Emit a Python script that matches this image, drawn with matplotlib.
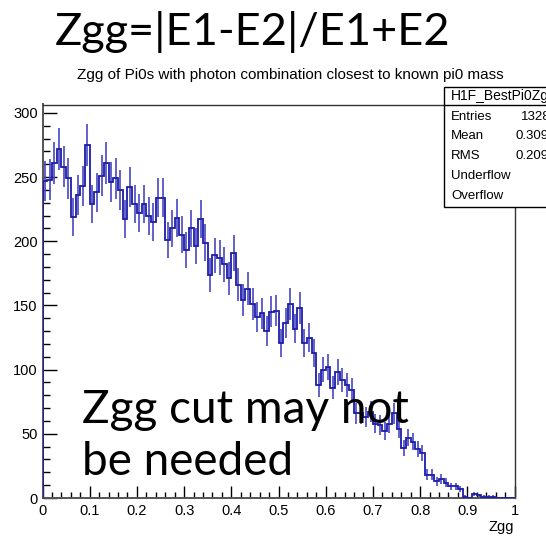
import numpy as np
import matplotlib
matplotlib.use("Agg")
import matplotlib.pyplot as plt
from matplotlib.patches import Rectangle
from matplotlib.lines import Line2D

# Zgg histogram, 100 bins on [0, 1]
bin_edges = np.linspace(0.0, 1.0, 101)
counts = [247, 248, 261, 272, 258, 249, 219, 236, 243, 275,
          229, 238, 251, 261, 246, 249, 240, 217, 242, 229,
          222, 229, 220, 215, 234, 234, 201, 210, 218, 205,
          193, 210, 196, 217, 199, 174, 189, 187, 182, 171,
          191, 166, 154, 163, 151, 141, 144, 130, 145, 146,
          121, 136, 151, 132, 148, 121, 125, 113, 88, 100,
          102, 86, 98, 92, 88, 84, 66, 66, 63, 67,
          58, 57, 52, 58, 66, 54, 39, 47, 44, 38,
          35, 18, 18, 13, 15, 12, 9, 9, 7, 1,
          0, 3, 2, 1, 1, 1, 0, 0, 0, 0]

stat_labels = ["Entries", "Mean", "RMS", "Underflow", "Overflow"]
stat_values = ["13283", "0.3093", "0.2093", "0", "0"]

xticks = [0, 0.1, 0.2, 0.3, 0.4, 0.5, 0.6, 0.7, 0.8, 0.9, 1]
xtick_labels = ["0", "0.1", "0.2", "0.3", "0.4", "0.5", "0.6", "0.7", "0.8", "0.9", "1"]
yticks = [0, 50, 100, 150, 200, 250, 300]

counts = np.array(counts, dtype=float)
centers = 0.5 * (bin_edges[:-1] + bin_edges[1:])

plt.rcParams['font.family'] = ['Liberation Sans', 'DejaVu Sans']

W, H = 546, 539
fig = plt.figure(figsize=(W / 100, H / 100), dpi=100)

def fx(px):
    return px / W

def fy(py):
    return 1 - py / H

left, right, top, bottom = 42.5, 514.5, 104.5, 498
ax = fig.add_axes([fx(left), fy(bottom), fx(right) - fx(left), fy(top) - fy(bottom)])

ax.stairs(counts, bin_edges, color='#1c1ca8', linewidth=1.3, zorder=3)
nz = counts > 0
ax.errorbar(centers[nz], counts[nz], yerr=np.sqrt(counts[nz]), fmt='none',
            ecolor='#4646c2', elinewidth=1.4, alpha=0.85, capsize=0, zorder=2)

ax.set_xlim(0, 1)
ax.set_ylim(0, 306.5)
ax.set_xticks(xticks)
ax.set_xticklabels(xtick_labels)
ax.set_xticks(np.arange(0, 1.001, 0.02), minor=True)
ax.set_yticks(yticks)
ax.set_yticks(np.arange(0, 306, 10), minor=True)

ax.tick_params(axis='both', which='both', direction='in', colors='black',
               labelsize=10.5, width=1.0)
ax.tick_params(axis='y', which='major', length=10, pad=3.5)
ax.tick_params(axis='y', which='minor', length=5)
ax.tick_params(axis='x', which='major', length=8.5, pad=4)
ax.tick_params(axis='x', which='minor', length=4.3)
ax.tick_params(top=False, right=False, which='both')

for side in ['left', 'bottom']:
    ax.spines[side].set_color('#555555')
    ax.spines[side].set_linewidth(1.4)
for side in ['top', 'right']:
    ax.spines[side].set_color('#333333')
    ax.spines[side].set_linewidth(1.0)

fig.text(fx(514), fy(527), "Zgg", ha='right', va='center', fontsize=10.5)

# titles
big_font = ['Lato', 'DejaVu Sans']
fig.text(fx(55), fy(45), "Zgg=|E1-E2|/E1+E2", ha='left', va='baseline',
         fontsize=32.5, family=big_font)
fig.text(fx(290), fy(75), "Zgg of Pi0s with photon combination closest to known pi0 mass",
         ha='center', va='center', fontsize=11)

# annotation
fig.text(fx(82), fy(423), "Zgg cut may not", ha='left', va='baseline',
         fontsize=33, family=big_font)
fig.text(fx(82), fy(475), "be needed", ha='left', va='baseline',
         fontsize=33, family=big_font)

# stat box
bx0, by0, by1 = 444, 87, 207
box = Rectangle((fx(bx0), fy(by1)), fx(W + 20) - fx(bx0), fy(by0) - fy(by1),
                transform=fig.transFigure, facecolor='white', edgecolor='black',
                linewidth=1.0, zorder=5)
fig.add_artist(box)
fig.add_artist(Line2D([fx(bx0), 1.0], [fy(105), fy(105)], transform=fig.transFigure,
                      color='black', linewidth=1.0, zorder=6))
fig.text(fx(451), fy(96), "H1F_BestPi0Zgg", ha='left', va='center', fontsize=10, zorder=7)
row_y = [117, 136, 156, 176, 196]
val_x = [521, 515, 515]
for i, (lab, ry) in enumerate(zip(stat_labels, row_y)):
    fig.text(fx(451), fy(ry), lab, ha='left', va='center', fontsize=9.5, zorder=7)
    if i < 3:
        fig.text(fx(val_x[i]), fy(ry), stat_values[i], ha='left', va='center',
                 fontsize=9.5, zorder=7)

fig.savefig("out.png", dpi=100)
